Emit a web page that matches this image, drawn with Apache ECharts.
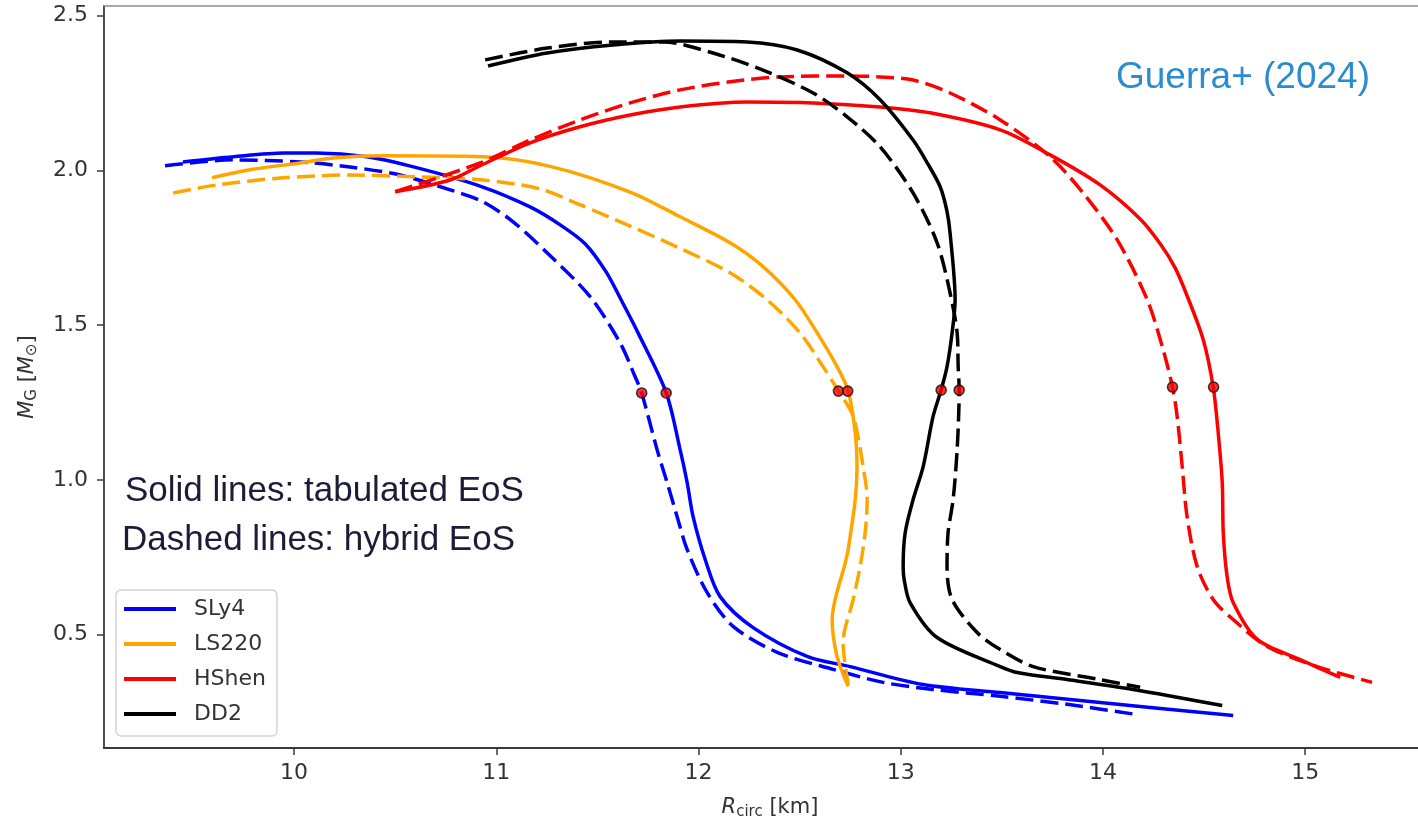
<!DOCTYPE html>
<html>
<head>
<meta charset="utf-8">
<script src="https://cdn.jsdelivr.net/npm/echarts@6/dist/echarts.min.js"></script>
<style>
  html, body { margin: 0; padding: 0; background: #fff; }
  #chart { width: 1418px; height: 825px; }
</style>
</head>
<body>
<div id="chart"></div>
<script>
// Mass–radius curves: [R_circ (km), M_G (M_sun)]
const eosNames = ['SLy4', 'LS220', 'HShen', 'DD2'];
const eosColors = ['#0000ff', '#ffa500', '#ff0000', '#000000'];

// tabulated EoS (solid)
const sly4Tab = [
  [9.45, 2.027], [9.70, 2.044], [9.95, 2.056], [10.11, 2.056], [10.36, 2.044],
  [10.61, 2.008], [10.93, 1.947], [11.167, 1.882], [11.316, 1.824], [11.439, 1.763],
  [11.543, 1.672], [11.617, 1.582], [11.701, 1.475], [11.840, 1.282], [11.909, 1.098],
  [11.944, 0.991], [11.973, 0.882], [12.033, 0.743], [12.107, 0.623], [12.270, 0.523],
  [12.537, 0.430], [12.750, 0.397], [13.111, 0.339], [13.492, 0.313], [13.986, 0.281],
  [14.644, 0.239]
];
const ls220Tab = [
  [9.594, 1.976], [9.782, 2.002], [10.03, 2.024], [10.193, 2.040], [10.44, 2.047],
  [10.935, 2.044], [11.266, 2.013], [11.662, 1.930], [11.909, 1.850],
  [12.156, 1.766], [12.319, 1.689], [12.478, 1.582], [12.587, 1.475], [12.685, 1.366],
  [12.740, 1.288], [12.775, 1.152], [12.784, 1.043], [12.775, 0.936], [12.740, 0.775],
  [12.730, 0.743], [12.661, 0.549], [12.685, 0.430], [12.740, 0.333]
];
const hshenTab = [
  [10.50, 1.931], [10.772, 1.969], [10.92, 2.015], [11.167, 2.089], [11.414, 2.141],
  [11.662, 2.179], [11.909, 2.205], [12.240, 2.221], [12.567, 2.218], [12.898, 2.205],
  [13.145, 2.186], [13.492, 2.131], [13.739, 2.050], [13.986, 1.953], [14.184, 1.843],
  [14.283, 1.763], [14.357, 1.685], [14.416, 1.595], [14.496, 1.453], [14.545, 1.301],
  [14.570, 1.152], [14.590, 0.991], [14.595, 0.830], [14.614, 0.688], [14.644, 0.604],
  [14.763, 0.485], [14.975, 0.420], [15.173, 0.362]
];
const dd2Tab = [
  [10.959, 2.337], [11.251, 2.379], [11.578, 2.405], [11.909, 2.418], [12.240, 2.415],
  [12.488, 2.389], [12.735, 2.315], [12.898, 2.228], [13.061, 2.098], [13.135, 2.020],
  [13.195, 1.947], [13.228, 1.870], [13.244, 1.798], [13.269, 1.582], [13.254, 1.475],
  [13.229, 1.366], [13.200, 1.291], [13.160, 1.205], [13.111, 1.043], [13.061, 0.936],
  [13.022, 0.829], [13.012, 0.720], [13.017, 0.678], [13.046, 0.604], [13.180, 0.491],
  [13.492, 0.397], [13.576, 0.378], [13.823, 0.355], [14.149, 0.323], [14.590, 0.271]
];

// hybrid EoS (dashed)
const sly4Hyb = [
  [9.362, 2.015], [9.698, 2.034], [10.03, 2.027], [10.277, 2.011], [10.524, 1.985],
  [10.772, 1.937], [10.935, 1.898], [11.083, 1.834], [11.251, 1.734], [11.464, 1.592],
  [11.612, 1.443], [11.686, 1.334], [11.719, 1.281], [11.795, 1.098], [11.845, 0.991],
  [11.894, 0.882], [11.944, 0.775], [12.043, 0.636], [12.171, 0.527], [12.389, 0.443],
  [12.666, 0.388], [12.913, 0.346], [13.160, 0.323], [13.492, 0.301], [13.823, 0.275],
  [14.169, 0.242]
];
const ls220Hyb = [
  [9.402, 1.927], [9.619, 1.953], [9.946, 1.976], [10.277, 1.985], [10.608, 1.979],
  [10.935, 1.969], [11.216, 1.940], [11.414, 1.889], [11.662, 1.820], [11.909, 1.748],
  [12.156, 1.669], [12.339, 1.582], [12.502, 1.475], [12.616, 1.366], [12.692, 1.287],
  [12.765, 1.205], [12.814, 1.043], [12.834, 0.936], [12.824, 0.829], [12.799, 0.720],
  [12.765, 0.614], [12.715, 0.475], [12.740, 0.339]
];
const hshenHyb = [
  [10.50, 1.931], [10.92, 2.024], [11.167, 2.098], [11.414, 2.163], [11.662, 2.218],
  [11.909, 2.260], [12.156, 2.286], [12.404, 2.302], [12.735, 2.305], [12.90, 2.302],
  [13.061, 2.292], [13.244, 2.250], [13.492, 2.163], [13.739, 2.044], [13.902, 1.927],
  [14.070, 1.776], [14.219, 1.582], [14.298, 1.420], [14.344, 1.300], [14.367, 1.205],
  [14.392, 1.043], [14.416, 0.882], [14.466, 0.720], [14.545, 0.614], [14.644, 0.549],
  [14.812, 0.462], [15.059, 0.397], [15.331, 0.346]
];
const dd2Hyb = [
  [10.945, 2.357], [11.251, 2.395], [11.578, 2.415], [11.825, 2.415], [12.072, 2.379],
  [12.319, 2.324], [12.567, 2.250], [12.735, 2.173], [12.898, 2.076], [13.061, 1.927],
  [13.180, 1.766], [13.244, 1.604], [13.279, 1.475], [13.284, 1.366], [13.289, 1.290],
  [13.279, 1.098], [13.259, 0.936], [13.234, 0.829], [13.229, 0.720], [13.254, 0.614],
  [13.378, 0.507], [13.492, 0.452], [13.655, 0.397], [13.986, 0.355], [14.184, 0.330]
];

// canonical-mass stars marked on each curve
const markedStars = [
  [11.719, 1.281], [11.840, 1.281],
  [12.692, 1.287], [12.738, 1.287],
  [13.200, 1.290], [13.289, 1.290],
  [14.344, 1.300], [14.547, 1.300]
];

const xTicks = [10, 11, 12, 13, 14, 15];
const yTicks = [0.5, 1.0, 1.5, 2.0, 2.5];
const xRange = [9.06, 15.558];
const yRange = [0.134, 2.531];

const tabCurves = [sly4Tab, ls220Tab, hshenTab, dd2Tab];
const hybCurves = [sly4Hyb, ls220Hyb, hshenHyb, dd2Hyb];

const series = [];
eosNames.forEach((name, i) => {
  series.push({
    name: name,
    type: 'line',
    data: tabCurves[i],
    showSymbol: false,
    symbol: 'none',
    smooth: 0.3,
    color: eosColors[i],
    lineStyle: { color: eosColors[i], width: 3.5, join: 'round' },
    z: 2
  });
  series.push({
    name: name + ' hybrid',
    type: 'line',
    data: hybCurves[i],
    showSymbol: false,
    symbol: 'none',
    smooth: 0.3,
    color: eosColors[i],
    lineStyle: { color: eosColors[i], width: 3.5, type: [18, 7], cap: 'butt', join: 'round' },
    z: 2
  });
});
series.push({
  name: 'M = 1.3',
  type: 'scatter',
  data: markedStars,
  symbol: 'circle',
  symbolSize: 10,
  itemStyle: { color: '#ff0000', borderColor: '#111', borderWidth: 1.6 },
  z: 5
});

const axisColor = '#3a3a3a';
const tickFont = { fontFamily: 'DejaVu Sans', fontSize: 22, color: '#333' };
function nameStyle(extra) {
  return Object.assign({
    fontFamily: 'DejaVu Sans', fontSize: 21, color: '#333', lineHeight: 24,
    rich: {
      it: { fontFamily: 'DejaVu Sans', fontStyle: 'italic', fontSize: 21, color: '#333', lineHeight: 24, verticalAlign: 'middle' },
      sub: { fontFamily: 'DejaVu Sans', fontSize: 15, color: '#333', lineHeight: 15, verticalAlign: 'bottom' }
    }
  }, extra || {});
}

const chart = echarts.init(document.getElementById('chart'), null, { renderer: 'canvas' });
chart.setOption({
  animation: false,
  backgroundColor: '#ffffff',
  grid: { left: 104, top: 6, right: 0, bottom: 76, show: false },
  legend: {
    data: eosNames,
    orient: 'vertical',
    left: 116,
    top: 590,
    icon: 'rect',
    itemWidth: 52,
    itemHeight: 4,
    itemGap: 11,
    padding: [7, 11, 10, 8],
    backgroundColor: 'rgba(255,255,255,0.85)',
    borderColor: '#d4d4d4',
    borderWidth: 1.5,
    borderRadius: 5,
    textStyle: { fontFamily: 'DejaVu Sans', fontSize: 22, color: '#333', lineHeight: 24, padding: [0, 0, 0, 13] }
  },
  xAxis: [
    {
      type: 'value',
      min: xRange[0],
      max: xRange[1],
      name: '{it|R}{sub|circ} [km]',
      nameLocation: 'middle',
      nameGap: 48,
      nameTextStyle: nameStyle({ padding: [0, 0, 0, 18] }),
      axisLine: { show: true, onZero: false, lineStyle: { color: axisColor, width: 1.8 } },
      axisTick: { show: true, length: 7, inside: false, customValues: xTicks, lineStyle: { color: axisColor, width: 1.5 } },
      axisLabel: Object.assign({ customValues: xTicks, margin: 14, formatter: v => String(v) }, tickFont),
      splitLine: { show: false }
    },
    {
      // top frame edge
      type: 'value',
      position: 'top',
      min: xRange[0],
      max: xRange[1],
      axisLine: { show: true, onZero: false, lineStyle: { color: '#8a8a8a', width: 1.5 } },
      axisTick: { show: false },
      axisLabel: { show: false },
      splitLine: { show: false }
    }
  ],
  yAxis: {
    type: 'value',
    min: yRange[0],
    max: yRange[1],
    name: '{it|M}{sub|G} [{it|M}{sub|⊙}]',
    nameLocation: 'middle',
    nameRotate: 90,
    nameGap: 64,
    nameTextStyle: nameStyle(),
    axisLine: { show: true, onZero: false, lineStyle: { color: axisColor, width: 1.8 } },
    axisTick: { show: true, length: 7, inside: false, customValues: yTicks, lineStyle: { color: axisColor, width: 1.5 } },
    axisLabel: Object.assign({ customValues: yTicks, margin: 16, formatter: v => v.toFixed(1) }, tickFont),
    splitLine: { show: false }
  },
  graphic: [
    {
      type: 'text', left: 125, top: 474, z: 10,
      style: { text: 'Solid lines: tabulated EoS', font: '35px "Liberation Sans", Arial, sans-serif', fill: '#1c1c38' }
    },
    {
      type: 'text', left: 122, top: 523, z: 10,
      style: { text: 'Dashed lines: hybrid EoS', font: '35px "Liberation Sans", Arial, sans-serif', fill: '#1c1c38' }
    },
    {
      type: 'text', left: 1116, top: 59, z: 10,
      style: { text: 'Guerra+ (2024)', font: '37px "Liberation Sans", Arial, sans-serif', fill: '#2b8ccf' }
    }
  ],
  series: series
});
</script>
</body>
</html>
